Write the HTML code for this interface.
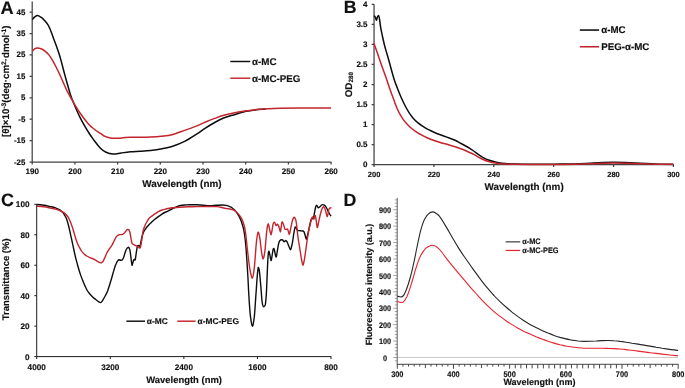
<!DOCTYPE html>
<html lang="en">
<head>
<meta charset="utf-8">
<title>Figure</title>
<style>
html,body{margin:0;padding:0;background:#fff;}
body{width:685px;height:388px;overflow:hidden;}
svg{display:block;font-family:"Liberation Sans",sans-serif;font-weight:bold;fill:#111;}
text{stroke:#111;stroke-width:0.15px;stroke-linejoin:round;text-rendering:geometricPrecision;}
.ax{stroke:#424242;stroke-width:1.25;fill:none;}
.axc{stroke:#1c1c1c;stroke-width:1;fill:none;}
.k{stroke:#0d0d0d;fill:none;stroke-linejoin:round;stroke-linecap:butt;}
.r{stroke:#c4242c;fill:none;stroke-linejoin:round;stroke-linecap:butt;}
.rd{stroke:#e5242e;fill:none;stroke-linejoin:round;stroke-linecap:butt;}
.m{text-anchor:middle;}
.e{text-anchor:end;}
</style>
</head>
<body>
<svg width="685" height="388" viewBox="0 0 685 388" role="img" aria-label="Four-panel figure: CD spectra, UV absorbance, FTIR transmittance and fluorescence of α-MC and α-MC-PEG">
<rect x="0" y="0" width="685" height="388" fill="#ffffff"/>

<g id="panelA">
<path class="ax" d="M32.20 1.50V162.00H331.40M32.20 12.09h-2.60M32.20 33.52h-2.60M32.20 54.95h-2.60M32.20 76.38h-2.60M32.20 97.81h-2.60M32.20 119.24h-2.60M32.20 140.67h-2.60M32.20 162.10h-2.60M32.20 162.00v2.60M74.90 162.00v2.60M117.60 162.00v2.60M160.30 162.00v2.60M203.00 162.00v2.60M245.70 162.00v2.60M288.40 162.00v2.60M331.10 162.00v2.60"/>
<text class="e" font-size="7.90" transform="translate(25.30 14.59)">45</text>
<text class="e" font-size="7.90" transform="translate(25.30 36.02)">35</text>
<text class="e" font-size="7.90" transform="translate(25.30 57.45)">25</text>
<text class="e" font-size="7.90" transform="translate(25.30 78.88)">15</text>
<text class="e" font-size="7.90" transform="translate(25.30 100.31)">5</text>
<text class="e" font-size="7.90" transform="translate(25.30 121.74)">-5</text>
<text class="e" font-size="7.90" transform="translate(25.30 143.17)">-15</text>
<text class="e" font-size="7.90" transform="translate(25.30 164.60)">-25</text>
<text class="m" font-size="8.00" transform="translate(32.20 174.20)">190</text>
<text class="m" font-size="8.00" transform="translate(74.90 174.20)">200</text>
<text class="m" font-size="8.00" transform="translate(117.60 174.20)">210</text>
<text class="m" font-size="8.00" transform="translate(160.30 174.20)">220</text>
<text class="m" font-size="8.00" transform="translate(203.00 174.20)">230</text>
<text class="m" font-size="8.00" transform="translate(245.70 174.20)">240</text>
<text class="m" font-size="8.00" transform="translate(288.40 174.20)">250</text>
<text class="m" font-size="8.00" transform="translate(331.10 174.20)">260</text>
<text class="m" font-size="9.90" transform="translate(181.90 187.40)">Wavelength (nm)</text>
<text font-size="9.75" transform="translate(9.20 137.00) rotate(-90)">[θ]×10<tspan dy="-3.4" font-size="6.6">-3</tspan><tspan dy="3.4">(deg·cm</tspan><tspan dy="-3.4" font-size="6.6">2</tspan><tspan dy="3.4">·dmol</tspan><tspan dy="-3.4" font-size="6.6">-1</tspan><tspan dy="3.4">)</tspan></text>
<path class="k" stroke-width="1.5" d="M32.4 19.6C32.8 19.2 33.8 17.6 34.7 16.9C35.6 16.2 36.5 15.3 37.7 15.4C38.9 15.5 40.4 16.7 41.7 17.7C43.0 18.7 44.2 20.1 45.3 21.3C46.3 22.5 47.2 23.7 48.0 24.9C48.8 26.1 49.2 27.1 49.8 28.5C50.4 29.9 51.0 31.4 51.6 33.0C52.2 34.6 52.6 35.9 53.4 38.0C54.2 40.1 55.1 42.4 56.2 45.5C57.3 48.6 58.5 51.8 60.0 56.8C61.5 61.8 63.1 68.8 64.9 75.3C66.7 81.8 69.2 90.8 70.8 95.8C72.4 100.8 73.1 101.7 74.6 105.3C76.1 108.9 77.8 113.0 80.0 117.3C82.2 121.7 85.7 127.7 88.0 131.5C90.3 135.3 91.9 137.4 94.0 140.2C96.1 143.0 98.5 146.2 100.5 148.2C102.5 150.2 103.9 151.3 106.0 152.3C108.1 153.3 110.5 153.9 113.0 154.0C115.5 154.1 118.1 153.4 121.0 153.0C123.9 152.6 127.4 152.1 130.6 151.8C133.8 151.5 136.7 151.5 140.0 151.3C143.3 151.1 147.2 150.9 150.7 150.5C154.2 150.1 157.4 149.7 161.0 149.0C164.6 148.3 168.1 147.8 172.0 146.5C175.9 145.2 180.4 143.5 184.6 141.4C188.8 139.3 193.6 136.1 197.0 133.9C200.4 131.7 202.1 130.2 205.0 128.3C207.9 126.4 211.7 124.2 214.7 122.5C217.7 120.8 220.1 119.5 223.0 118.3C225.9 117.1 228.7 116.4 232.3 115.3C236.0 114.2 241.1 112.5 244.9 111.6C248.7 110.7 251.5 110.3 255.0 109.9C258.5 109.5 264.2 109.2 266.0 109.0"/>
<path class="r" stroke-width="1.5" d="M32.4 51.2C32.8 50.8 33.8 49.5 34.6 48.9C35.4 48.3 36.0 47.9 37.2 47.9C38.4 47.9 40.4 48.4 41.7 49.0C43.1 49.6 44.1 50.3 45.3 51.3C46.5 52.3 47.7 53.4 48.9 54.9C50.1 56.4 51.3 58.3 52.5 60.3C53.7 62.3 54.9 64.6 56.1 67.0C57.3 69.4 58.6 72.0 59.8 74.6C61.0 77.2 62.0 79.7 63.2 82.4C64.4 85.1 65.7 88.2 67.0 90.8C68.3 93.4 69.7 95.8 71.0 98.0C72.3 100.3 73.1 101.8 74.6 104.3C76.1 106.8 77.8 109.8 80.0 113.0C82.2 116.2 85.7 120.7 88.0 123.4C90.3 126.1 91.9 127.3 94.0 129.0C96.1 130.7 98.7 132.2 100.5 133.4C102.3 134.6 103.3 135.6 105.0 136.4C106.7 137.2 108.8 137.7 110.5 138.0C112.2 138.3 113.3 138.3 115.0 138.3C116.7 138.3 118.9 138.3 120.6 138.2C122.3 138.0 123.3 137.6 125.0 137.4C126.7 137.2 128.1 137.2 130.6 137.2C133.1 137.2 136.7 137.2 140.0 137.2C143.3 137.2 147.2 137.2 150.7 137.0C154.2 136.8 157.4 136.6 161.0 136.2C164.6 135.8 168.1 135.7 172.0 134.7C175.9 133.7 180.4 131.9 184.6 130.4C188.8 128.9 193.6 127.3 197.0 125.9C200.4 124.5 202.1 123.5 205.0 122.2C207.9 121.0 211.7 119.5 214.7 118.4C217.7 117.3 220.1 116.3 223.0 115.5C225.9 114.7 228.7 114.0 232.3 113.3C236.0 112.5 240.3 111.7 244.9 111.0C249.5 110.3 254.2 109.8 260.0 109.3C265.9 108.8 273.3 108.5 280.0 108.3C286.7 108.1 291.5 108.1 300.0 108.1C308.5 108.0 325.8 108.0 331.0 108.0"/>
<path class="k" stroke-width="1.45" d="M230.3 61.5H250.3"/>
<path class="r" stroke-width="1.45" d="M230.3 78.2H250.3"/>
<text font-size="9.80" transform="translate(252.00 64.90)">α-MC</text>
<text font-size="9.80" transform="translate(252.00 81.50)">α-MC-PEG</text>
<text font-size="18.20" transform="translate(0.40 13.75)">A</text>
</g>
<g id="panelB">
<path class="ax" d="M374.05 4.20V164.70H673.60M374.05 4.30h-2.40M374.05 24.35h-2.40M374.05 44.40h-2.40M374.05 64.45h-2.40M374.05 84.50h-2.40M374.05 104.55h-2.40M374.05 124.60h-2.40M374.05 144.65h-2.40M374.05 164.70h-2.40M374.05 164.70v2.40M433.92 164.70v2.40M493.79 164.70v2.40M553.66 164.70v2.40M613.53 164.70v2.40M673.40 164.70v2.40"/>
<text class="e" font-size="8.00" transform="translate(367.50 6.75)">4</text>
<text class="e" font-size="8.00" transform="translate(367.50 26.80)">3.5</text>
<text class="e" font-size="8.00" transform="translate(367.50 46.85)">3</text>
<text class="e" font-size="8.00" transform="translate(367.50 66.90)">2.5</text>
<text class="e" font-size="8.00" transform="translate(367.50 86.95)">2</text>
<text class="e" font-size="8.00" transform="translate(367.50 107.00)">1.5</text>
<text class="e" font-size="8.00" transform="translate(367.50 127.05)">1</text>
<text class="e" font-size="8.00" transform="translate(367.50 147.10)">0.5</text>
<text class="e" font-size="8.00" transform="translate(367.50 167.15)">0</text>
<text class="m" font-size="7.50" transform="translate(374.05 176.50)">200</text>
<text class="m" font-size="7.50" transform="translate(433.92 176.50)">220</text>
<text class="m" font-size="7.50" transform="translate(493.79 176.50)">240</text>
<text class="m" font-size="7.50" transform="translate(553.66 176.50)">260</text>
<text class="m" font-size="7.50" transform="translate(613.53 176.50)">280</text>
<text class="m" font-size="7.50" transform="translate(673.40 176.50)">300</text>
<text class="m" font-size="9.90" transform="translate(524.10 190.30)">Wavelength (nm)</text>
<text font-size="9.80" transform="translate(351.60 97.30) rotate(-90)">OD<tspan dy="1.5" font-size="6.3">280</tspan></text>
<path class="k" stroke-width="1.5" d="M374.1 15.6C374.2 15.8 374.8 16.2 375.2 17.0C375.6 17.8 376.1 20.3 376.5 20.3C376.9 20.3 377.0 18.0 377.3 17.2C377.6 16.4 377.9 15.7 378.2 15.6C378.5 15.5 378.8 15.8 379.0 16.5C379.2 17.1 379.3 17.6 379.6 19.5C379.9 21.4 380.2 24.8 380.7 27.6C381.2 30.4 381.9 33.6 382.5 36.5C383.1 39.4 383.8 42.3 384.5 45.2C385.2 48.1 386.2 51.1 387.0 54.0C387.8 56.9 388.7 59.8 389.5 62.8C390.3 65.8 391.2 69.1 392.0 72.0C392.8 74.9 393.6 77.7 394.5 80.4C395.4 83.1 396.4 85.5 397.5 88.4C398.6 91.3 399.9 94.6 401.3 97.7C402.7 100.8 404.4 104.4 405.8 107.0C407.2 109.6 408.2 111.4 409.5 113.3C410.8 115.2 412.0 116.8 413.4 118.4C414.8 120.0 416.3 121.4 418.0 122.8C419.7 124.2 421.6 125.4 423.4 126.6C425.1 127.8 426.7 128.8 428.5 129.7C430.3 130.6 431.9 131.3 434.0 132.2C436.1 133.1 438.6 134.1 441.0 135.0C443.4 135.9 446.2 136.8 448.5 137.7C450.8 138.6 452.9 139.3 455.0 140.3C457.1 141.3 459.0 142.4 461.1 143.5C463.2 144.6 465.4 145.8 467.5 147.0C469.6 148.2 471.8 149.7 473.7 151.0C475.6 152.3 477.3 153.7 479.0 154.8C480.7 155.9 482.1 156.9 483.7 157.8C485.3 158.7 486.8 159.4 488.5 160.0C490.2 160.6 491.8 161.1 493.8 161.6C495.7 162.1 497.9 162.7 500.0 163.0C502.1 163.3 503.8 163.4 506.3 163.6C508.8 163.8 511.1 164.0 515.0 164.1C519.0 164.2 523.5 164.3 530.0 164.3C536.5 164.3 546.2 164.3 553.7 164.2C561.2 164.1 569.0 164.1 575.0 163.9C581.0 163.8 585.3 163.5 590.0 163.3C594.7 163.1 599.1 162.8 603.0 162.6C606.9 162.4 609.8 162.3 613.5 162.3C617.2 162.3 620.6 162.3 625.0 162.5C629.4 162.7 635.0 163.0 640.0 163.2C645.0 163.4 649.5 163.7 655.0 163.9C660.5 164.1 670.2 164.2 673.3 164.3"/>
<path class="r" stroke-width="1.5" d="M374.1 43.4C374.6 45.0 376.2 49.6 377.3 52.8C378.4 56.0 379.6 59.6 380.7 62.8C381.8 66.0 382.9 69.1 384.0 72.0C385.1 74.9 386.1 77.7 387.0 80.4C387.9 83.2 388.8 85.9 389.7 88.5C390.6 91.1 391.6 93.9 392.5 96.2C393.4 98.5 394.1 100.6 394.8 102.6C395.6 104.6 396.1 106.2 397.0 108.2C397.9 110.2 398.9 112.4 400.0 114.3C401.1 116.2 402.1 118.0 403.3 119.6C404.5 121.2 405.8 122.7 407.0 124.0C408.2 125.3 409.4 126.5 410.8 127.7C412.2 128.9 413.8 130.2 415.5 131.4C417.2 132.6 419.0 133.6 420.9 134.7C422.8 135.8 424.8 136.8 427.0 137.8C429.2 138.8 431.7 139.7 434.0 140.5C436.3 141.3 438.6 142.0 441.0 142.7C443.4 143.4 446.0 144.0 448.5 144.7C451.0 145.4 453.5 146.2 456.0 147.0C458.5 147.8 461.5 149.0 463.6 149.8C465.7 150.6 466.8 151.2 468.5 152.0C470.2 152.8 471.9 153.4 473.7 154.3C475.4 155.2 477.3 156.4 479.0 157.3C480.7 158.2 482.1 159.1 483.7 159.8C485.3 160.5 486.8 161.0 488.5 161.5C490.2 162.0 491.8 162.4 493.8 162.8C495.7 163.2 497.9 163.5 500.0 163.7C502.1 163.9 503.8 164.0 506.3 164.1C508.8 164.2 511.1 164.2 515.0 164.3C519.0 164.4 523.5 164.4 530.0 164.4C536.5 164.4 546.2 164.4 553.7 164.4C561.2 164.4 569.0 164.3 575.0 164.2C581.0 164.1 585.3 164.0 590.0 163.8C594.7 163.7 599.1 163.4 603.0 163.3C606.9 163.2 609.8 163.1 613.5 163.1C617.2 163.1 620.6 163.1 625.0 163.2C629.4 163.3 635.0 163.5 640.0 163.7C645.0 163.9 649.5 164.1 655.0 164.2C660.5 164.3 670.2 164.4 673.3 164.5"/>
<path class="k" stroke-width="1.55" d="M579.8 30.05H599.1"/>
<path class="r" stroke-width="1.55" d="M579.8 46.75H599.1"/>
<text font-size="9.72" transform="translate(601.30 33.10)">α-MC</text>
<text font-size="9.72" transform="translate(601.30 49.95)">PEG-α-MC</text>
<text font-size="17.80" transform="translate(343.80 13.45)">B</text>
</g>
<g id="panelC">
<path class="axc" d="M36.70 204.30V356.60H331.30M36.70 204.30h-2.40M36.70 234.76h-2.40M36.70 265.22h-2.40M36.70 295.68h-2.40M36.70 326.14h-2.40M36.70 356.60h-2.40M36.70 356.60v2.40M110.28 356.60v2.40M183.85 356.60v2.40M257.43 356.60v2.40M331.00 356.60v2.40"/>
<text class="e" font-size="8.20" transform="translate(29.50 207.20)">100</text>
<text class="e" font-size="8.20" transform="translate(29.50 237.66)">80</text>
<text class="e" font-size="8.20" transform="translate(29.50 268.12)">60</text>
<text class="e" font-size="8.20" transform="translate(29.50 298.58)">40</text>
<text class="e" font-size="8.20" transform="translate(29.50 329.04)">20</text>
<text class="e" font-size="8.20" transform="translate(29.50 359.50)">0</text>
<text class="m" font-size="8.20" transform="translate(36.70 369.60)">4000</text>
<text class="m" font-size="8.20" transform="translate(110.28 369.60)">3200</text>
<text class="m" font-size="8.20" transform="translate(183.85 369.60)">2400</text>
<text class="m" font-size="8.20" transform="translate(257.43 369.60)">1600</text>
<text class="m" font-size="8.20" transform="translate(331.00 369.60)">800</text>
<text class="m" font-size="9.45" transform="translate(184.10 383.20)">Wavelength (nm)</text>
<text class="m" font-size="9.50" transform="translate(9.00 279.30) rotate(-90)">Transmittance (%)</text>
<path class="k" stroke-width="1.4" d="M36.7 204.5C37.9 204.6 41.8 205.0 44.0 205.3C46.2 205.7 48.3 206.2 50.2 206.6C52.1 207.0 53.8 207.3 55.5 207.9C57.2 208.5 59.0 209.3 60.3 210.2C61.6 211.2 62.5 211.9 63.5 213.3C64.5 214.8 65.7 216.6 66.6 219.0C67.5 221.4 68.2 224.1 69.0 227.5C69.8 230.9 70.8 235.8 71.6 239.2C72.3 242.6 72.9 245.1 73.5 248.0C74.1 250.9 74.7 253.7 75.4 256.8C76.2 259.9 77.2 263.6 78.0 266.5C78.8 269.4 79.5 271.7 80.4 274.4C81.3 277.1 82.5 280.0 83.5 282.5C84.5 285.0 85.8 287.8 86.7 289.5C87.6 291.2 88.2 291.9 89.0 293.0C89.8 294.1 90.8 295.1 91.7 296.0C92.6 296.9 93.4 297.7 94.2 298.4C95.0 299.1 95.9 299.7 96.7 300.3C97.5 300.9 98.2 301.5 98.8 301.9C99.4 302.3 100.0 302.7 100.5 302.6C101.0 302.6 101.4 302.1 101.8 301.6C102.2 301.1 102.4 300.8 103.0 299.8C103.6 298.8 104.6 297.0 105.4 295.5C106.2 294.0 106.8 293.1 107.6 291.0C108.3 288.9 109.4 285.5 110.1 283.2C110.8 280.9 111.4 279.1 112.0 277.0C112.6 274.9 113.2 272.5 113.8 270.6C114.3 268.7 114.8 267.2 115.3 265.8C115.8 264.4 116.4 263.2 116.8 262.3C117.2 261.4 117.6 260.9 118.0 260.5C118.4 260.1 118.7 259.9 119.2 259.8C119.6 259.8 120.2 260.2 120.7 260.2C121.2 260.2 121.7 260.5 122.2 260.0C122.7 259.5 123.1 258.6 123.6 257.4C124.1 256.2 124.5 254.4 125.0 253.0C125.5 251.6 126.0 249.9 126.5 249.0C127.0 248.1 127.6 247.5 128.1 247.3C128.5 247.1 128.9 247.5 129.2 248.0C129.5 248.5 129.7 248.8 130.0 250.5C130.3 252.2 130.7 255.6 131.0 258.0C131.3 260.4 131.7 264.4 132.0 265.1C132.3 265.9 132.6 263.4 132.9 262.5C133.2 261.6 133.4 260.3 133.7 259.8C134.0 259.3 134.2 259.4 134.5 259.4C134.8 259.4 134.9 260.7 135.2 259.8C135.5 258.9 135.8 256.0 136.1 254.0C136.4 252.0 136.8 249.3 137.0 248.0C137.2 246.7 137.4 246.4 137.6 246.0C137.8 245.6 137.9 245.5 138.2 245.5C138.5 245.5 138.9 246.2 139.2 246.2C139.5 246.2 139.9 246.4 140.2 245.5C140.5 244.6 140.8 242.5 141.1 241.0C141.4 239.5 141.7 238.0 142.0 236.7C142.3 235.4 142.8 234.1 143.2 233.0C143.6 231.9 143.8 231.5 144.5 230.4C145.2 229.3 146.4 227.6 147.5 226.3C148.6 225.1 149.6 224.0 150.8 222.9C152.0 221.8 153.2 220.6 154.5 219.5C155.8 218.4 157.1 217.5 158.3 216.6C159.6 215.7 160.8 214.9 162.0 214.1C163.2 213.3 164.1 212.8 165.8 212.0C167.5 211.2 170.1 209.9 172.0 209.0C173.9 208.1 175.6 207.2 177.0 206.6C178.4 206.0 179.2 205.8 180.5 205.5C181.8 205.2 183.0 205.1 184.6 205.0C186.2 204.9 187.9 204.7 190.0 204.7C192.1 204.7 194.9 204.7 197.1 204.8C199.3 204.9 200.9 205.1 203.0 205.2C205.1 205.3 207.5 205.6 209.7 205.6C211.9 205.6 213.9 205.4 216.0 205.3C218.1 205.2 220.6 205.0 222.3 205.0C224.0 205.0 224.8 205.1 226.0 205.4C227.2 205.7 228.8 206.2 229.8 206.6C230.9 207.0 231.5 207.4 232.3 208.0C233.1 208.6 234.0 209.4 234.8 210.3C235.6 211.2 236.5 212.2 237.3 213.5C238.1 214.8 239.1 216.3 239.8 217.9C240.6 219.5 241.2 220.9 241.8 222.8C242.4 224.7 243.1 226.7 243.6 229.2C244.1 231.7 244.6 234.7 245.0 238.0C245.4 241.3 245.8 245.3 246.1 249.3C246.4 253.3 246.7 257.4 247.0 262.0C247.3 266.6 247.6 272.2 247.9 277.0C248.2 281.8 248.3 285.3 248.6 291.0C248.9 296.7 249.5 305.9 249.9 311.0C250.3 316.1 250.8 319.0 251.2 321.5C251.6 324.0 252.0 325.9 252.4 326.2C252.8 326.4 253.1 324.7 253.4 323.0C253.7 321.3 254.1 319.2 254.4 316.0C254.7 312.8 255.0 308.2 255.3 304.0C255.6 299.8 255.8 295.9 256.2 291.0C256.5 286.1 257.1 278.1 257.4 274.4C257.7 270.7 257.8 270.2 258.0 269.0C258.2 267.8 258.2 267.2 258.4 267.4C258.6 267.6 258.9 268.4 259.2 270.0C259.5 271.6 259.7 273.5 260.0 277.0C260.3 280.5 260.9 287.0 261.2 291.0C261.5 295.0 261.7 298.6 262.0 301.0C262.3 303.4 262.5 304.4 262.8 305.4C263.1 306.4 263.4 306.7 263.7 306.8C264.0 306.9 264.3 306.5 264.6 306.0C264.9 305.5 265.2 306.1 265.5 303.6C265.8 301.1 266.2 297.1 266.5 291.0C266.8 284.9 267.2 272.7 267.5 266.9C267.8 261.1 267.9 258.6 268.1 256.0C268.3 253.4 268.5 251.9 268.7 251.3C268.9 250.7 269.1 251.8 269.3 252.5C269.5 253.2 269.8 254.5 270.0 255.6C270.2 256.6 270.4 258.0 270.6 258.8C270.8 259.6 271.0 260.8 271.2 260.6C271.4 260.4 271.6 258.8 271.8 257.5C272.0 256.2 272.3 254.3 272.5 253.0C272.7 251.7 272.9 250.3 273.1 249.6C273.3 248.8 273.6 248.4 273.8 248.5C274.0 248.6 274.2 249.2 274.4 250.0C274.6 250.8 274.8 252.0 275.0 253.0C275.2 254.0 275.4 255.2 275.6 255.8C275.8 256.4 276.1 257.4 276.3 256.8C276.6 256.2 276.8 254.2 277.1 252.5C277.4 250.8 277.7 248.5 278.0 246.8C278.3 245.1 278.7 243.4 279.0 242.3C279.3 241.2 279.6 240.9 280.0 240.5C280.4 240.1 280.9 239.9 281.3 239.8C281.7 239.7 282.2 239.8 282.6 240.0C283.0 240.2 283.2 240.9 283.5 241.2C283.8 241.5 284.1 241.7 284.3 241.7C284.6 241.7 284.8 241.2 285.0 241.0C285.2 240.8 285.3 240.5 285.6 240.5C285.9 240.5 286.3 240.8 286.6 241.2C286.9 241.6 287.2 242.1 287.6 243.0C288.0 243.9 288.6 245.7 289.1 246.8C289.6 247.9 290.2 249.9 290.6 249.8C291.0 249.8 291.3 247.8 291.6 246.5C291.9 245.2 292.2 243.9 292.6 241.7C293.0 239.4 293.5 235.4 293.9 233.0C294.3 230.6 294.7 228.0 295.1 227.2C295.5 226.4 295.9 227.9 296.3 228.4C296.7 228.9 297.1 230.0 297.6 230.4C298.1 230.8 298.9 230.5 299.5 230.6C300.1 230.7 300.9 230.8 301.4 230.9C301.9 231.0 302.3 230.9 302.7 231.0C303.1 231.1 303.5 230.9 303.9 231.7C304.3 232.4 304.8 234.2 305.2 235.5C305.6 236.8 306.0 239.3 306.4 239.2C306.8 239.1 307.2 236.7 307.6 235.0C308.0 233.3 308.5 231.1 308.9 229.2C309.3 227.3 309.7 225.2 310.1 223.5C310.5 221.8 311.0 219.9 311.4 219.1C311.8 218.3 312.0 218.6 312.3 218.5C312.6 218.4 312.9 219.1 313.2 218.6C313.5 218.1 313.8 216.7 314.0 215.5C314.2 214.3 314.4 213.0 314.7 211.6C315.0 210.2 315.3 208.4 315.6 207.3C315.9 206.2 316.2 205.5 316.5 205.3C316.8 205.1 317.1 205.8 317.4 206.2C317.7 206.6 317.9 207.6 318.2 207.8C318.5 208.0 318.9 207.7 319.2 207.5C319.5 207.3 319.8 207.0 320.2 206.6C320.6 206.2 321.1 205.3 321.5 205.0C321.9 204.7 322.3 204.6 322.8 204.6C323.3 204.6 323.8 204.9 324.3 205.2C324.8 205.5 325.4 206.0 325.8 206.6C326.2 207.2 326.6 208.0 327.0 208.8C327.4 209.6 327.9 210.7 328.3 211.6C328.7 212.5 329.2 213.2 329.6 214.0C330.1 214.8 330.8 215.8 331.0 216.1"/>
<path class="r" stroke-width="1.4" d="M36.7 206.2C37.9 206.3 41.8 206.5 44.0 206.8C46.2 207.1 48.3 207.6 50.2 208.0C52.1 208.4 53.8 208.7 55.5 209.2C57.2 209.7 59.2 210.3 60.7 211.0C62.1 211.6 63.0 212.0 64.2 212.9C65.4 213.9 66.6 215.1 67.7 216.5C68.7 218.0 69.4 219.4 70.3 221.5C71.2 223.6 72.2 226.8 73.0 229.2C73.8 231.6 74.3 233.7 74.9 235.8C75.5 237.9 76.1 239.9 76.8 241.7C77.4 243.5 78.3 245.2 79.0 246.7C79.8 248.2 80.4 249.3 81.2 250.5C81.9 251.7 82.9 252.8 83.8 253.7C84.8 254.6 85.6 255.3 86.7 256.0C87.8 256.7 89.2 257.2 90.5 257.8C91.8 258.4 93.0 258.7 94.2 259.3C95.4 259.9 96.5 260.7 97.5 261.3C98.5 261.9 99.8 262.6 100.5 262.8C101.2 263.0 101.4 262.6 101.8 262.4C102.2 262.1 102.5 262.1 103.0 261.3C103.5 260.5 104.4 258.8 105.0 257.4C105.6 256.0 106.1 254.4 106.8 253.0C107.5 251.6 108.5 250.2 109.3 249.0C110.1 247.8 111.0 246.8 111.8 245.5C112.6 244.2 113.3 242.6 114.0 241.2C114.7 239.8 115.4 238.1 116.0 237.2C116.6 236.2 117.0 235.9 117.6 235.5C118.1 235.1 118.7 234.8 119.3 234.7C119.9 234.5 120.6 234.7 121.2 234.6C121.8 234.5 122.5 234.5 123.1 234.2C123.7 233.8 124.2 233.1 124.8 232.5C125.3 231.9 126.0 230.9 126.4 230.4C126.9 229.9 127.1 229.6 127.5 229.5C127.9 229.4 128.3 229.5 128.6 229.7C128.9 229.9 129.2 230.2 129.4 230.8C129.7 231.4 129.8 231.7 130.1 233.0C130.4 234.3 130.7 236.8 131.0 238.5C131.3 240.2 131.6 242.0 131.9 243.0C132.2 244.0 132.7 244.0 133.1 244.3C133.5 244.6 134.0 244.8 134.4 245.0C134.8 245.2 135.2 245.4 135.6 245.6C136.0 245.8 136.4 245.7 136.9 246.0C137.4 246.3 138.0 247.0 138.5 247.3C139.0 247.6 139.6 248.3 140.0 248.0C140.4 247.7 140.6 246.6 140.8 245.5C141.1 244.4 141.2 243.3 141.5 241.7C141.8 240.1 142.0 237.9 142.3 236.0C142.6 234.1 142.8 232.2 143.2 230.4C143.6 228.7 144.4 227.0 145.0 225.5C145.6 224.0 146.3 222.7 147.0 221.6C147.7 220.4 148.3 219.3 148.9 218.5C149.5 217.7 149.9 217.6 150.8 216.8C151.7 216.1 153.2 215.1 154.5 214.2C155.8 213.3 157.1 212.3 158.3 211.6C159.6 210.9 160.8 210.4 162.0 210.0C163.2 209.6 164.1 209.4 165.8 209.0C167.5 208.6 169.7 208.1 172.0 207.8C174.3 207.5 176.8 207.5 179.5 207.3C182.2 207.1 185.1 206.9 188.0 206.8C190.9 206.7 193.9 206.7 197.1 206.6C200.3 206.5 203.7 206.5 207.0 206.5C210.3 206.5 214.9 206.5 217.2 206.6C219.5 206.7 219.7 207.0 221.0 207.3C222.3 207.6 223.6 208.1 224.8 208.3C226.1 208.6 227.2 208.6 228.5 208.8C229.8 209.0 231.1 209.2 232.3 209.6C233.5 210.0 234.4 210.6 235.5 211.3C236.6 212.1 237.8 213.2 238.6 214.1C239.4 215.0 239.9 215.8 240.5 216.8C241.1 217.9 241.8 219.0 242.4 220.4C243.0 221.8 243.5 223.1 244.0 225.0C244.5 226.9 245.0 229.2 245.4 231.7C245.8 234.2 246.1 237.1 246.4 240.0C246.7 242.9 247.0 246.0 247.4 249.3C247.8 252.6 248.2 256.6 248.6 260.0C249.0 263.4 249.5 266.8 249.9 269.4C250.3 272.0 250.8 274.0 251.2 275.5C251.6 277.0 252.0 278.4 252.4 278.2C252.8 278.0 253.1 276.4 253.4 274.5C253.7 272.6 254.1 270.0 254.4 266.9C254.7 263.8 255.0 259.8 255.3 256.0C255.6 252.2 255.9 247.6 256.2 244.3C256.5 241.0 256.9 238.0 257.2 236.0C257.5 234.0 257.9 232.4 258.2 232.2C258.5 231.9 258.8 233.3 259.1 234.5C259.4 235.7 259.7 237.3 260.0 239.2C260.3 241.1 260.5 243.7 260.8 246.0C261.1 248.3 261.4 251.1 261.7 253.0C262.0 254.9 262.2 256.2 262.5 257.2C262.8 258.2 262.9 259.0 263.2 258.8C263.5 258.6 263.8 257.4 264.1 256.0C264.4 254.6 264.7 253.0 265.0 250.5C265.3 248.0 265.5 244.1 265.8 241.0C266.1 237.9 266.4 234.2 266.7 231.7C267.0 229.2 267.2 227.2 267.5 225.8C267.8 224.5 268.0 223.6 268.2 223.6C268.4 223.6 268.7 224.8 268.9 225.7C269.1 226.6 269.2 228.0 269.5 229.2C269.8 230.4 270.1 231.8 270.4 232.7C270.7 233.6 270.9 235.1 271.2 234.7C271.5 234.3 271.7 232.1 272.0 230.5C272.3 228.9 272.6 226.7 272.8 225.4C273.1 224.2 273.2 223.6 273.5 223.0C273.8 222.4 274.0 222.1 274.3 222.1C274.6 222.1 274.8 222.6 275.1 223.2C275.4 223.8 275.7 225.1 276.0 225.4C276.3 225.7 276.6 225.0 276.8 224.8C277.1 224.6 277.2 224.1 277.5 224.2C277.8 224.3 278.1 225.0 278.4 225.6C278.7 226.2 279.1 227.1 279.3 227.9C279.6 228.7 279.7 229.7 279.9 230.3C280.1 230.9 280.3 232.2 280.5 231.7C280.7 231.1 280.9 228.6 281.2 227.0C281.4 225.4 281.7 222.8 282.0 222.1C282.3 221.4 282.6 222.4 282.9 223.0C283.2 223.6 283.6 224.6 283.8 225.4C284.1 226.2 284.2 227.0 284.4 227.6C284.6 228.2 284.7 228.9 285.0 229.2C285.3 229.5 285.9 229.4 286.3 229.4C286.7 229.4 287.2 228.8 287.6 229.2C288.0 229.6 288.2 231.2 288.5 232.0C288.8 232.8 289.0 234.4 289.3 234.2C289.6 233.9 290.0 232.0 290.3 230.5C290.6 229.0 290.9 227.2 291.3 225.4C291.7 223.7 292.2 221.3 292.6 220.0C293.0 218.7 293.5 217.7 293.9 217.4C294.3 217.1 294.6 217.5 294.9 218.0C295.2 218.5 295.6 219.0 295.9 220.4C296.2 221.8 296.5 224.2 296.8 226.5C297.1 228.8 297.3 231.5 297.6 234.2C297.9 236.9 298.4 239.8 298.8 242.5C299.2 245.2 299.7 247.7 300.1 250.5C300.6 253.3 301.0 257.1 301.5 259.5C302.0 261.9 302.5 264.8 302.9 265.1C303.3 265.4 303.6 263.3 304.0 261.5C304.4 259.7 304.8 257.0 305.2 254.3C305.6 251.6 306.0 248.4 306.4 245.5C306.8 242.6 307.3 239.3 307.7 236.7C308.1 234.1 308.5 232.1 308.9 230.0C309.3 227.9 309.8 225.9 310.2 224.2C310.6 222.5 310.9 221.2 311.2 220.0C311.5 218.8 311.9 217.5 312.2 217.1C312.5 216.7 312.8 217.5 313.1 217.8C313.4 218.1 313.8 219.2 314.0 219.1C314.2 219.0 314.4 217.6 314.6 217.0C314.8 216.4 314.9 214.8 315.2 215.4C315.5 216.0 315.9 218.5 316.2 220.5C316.5 222.5 316.9 226.7 317.2 227.4C317.5 228.1 317.8 226.0 318.1 224.8C318.4 223.6 318.6 222.0 319.0 220.4C319.4 218.8 319.8 216.7 320.2 215.0C320.6 213.3 321.1 211.5 321.5 210.3C321.9 209.1 322.2 208.4 322.5 207.8C322.8 207.2 323.1 206.6 323.5 206.6C323.9 206.6 324.2 207.2 324.6 208.0C325.0 208.8 325.5 210.5 325.8 211.6C326.1 212.7 326.2 213.7 326.5 214.5C326.8 215.3 327.0 216.8 327.3 216.6C327.6 216.4 327.8 214.8 328.1 213.5C328.4 212.2 328.6 209.9 329.0 209.0C329.4 208.1 329.8 208.2 330.2 208.0C330.6 207.8 331.3 207.8 331.5 207.8"/>
<path class="k" stroke-width="1.45" d="M126.4 321.2H145"/>
<path class="r" stroke-width="1.45" d="M177.3 321.2H195.6"/>
<text font-size="8.40" transform="translate(146.80 324.40)">α-MC</text>
<text font-size="8.40" transform="translate(197.50 324.40)">α-MC-PEG</text>
<text font-size="17.90" transform="translate(0.90 205.80)">C</text>
</g>
<g id="panelD">
<path stroke="#bcbcbc" stroke-width="0.8" fill="none" d="M397.4 357.5H678.3"/><path stroke="#9a9a9a" stroke-width="0.9" fill="none" d="M397.2 360.78h-2.4M397.2 357.50h-4.0M397.2 354.22h-2.4M397.2 350.93h-2.4M397.2 347.65h-2.4M397.2 344.36h-2.4M397.2 341.08h-4.0M397.2 337.80h-2.4M397.2 334.51h-2.4M397.2 331.23h-2.4M397.2 327.94h-2.4M397.2 324.66h-4.0M397.2 321.38h-2.4M397.2 318.09h-2.4M397.2 314.81h-2.4M397.2 311.52h-2.4M397.2 308.24h-4.0M397.2 304.96h-2.4M397.2 301.67h-2.4M397.2 298.39h-2.4M397.2 295.10h-2.4M397.2 291.82h-4.0M397.2 288.54h-2.4M397.2 285.25h-2.4M397.2 281.97h-2.4M397.2 278.68h-2.4M397.2 275.40h-4.0M397.2 272.12h-2.4M397.2 268.83h-2.4M397.2 265.55h-2.4M397.2 262.26h-2.4M397.2 258.98h-4.0M397.2 255.70h-2.4M397.2 252.41h-2.4M397.2 249.13h-2.4M397.2 245.84h-2.4M397.2 242.56h-4.0M397.2 239.28h-2.4M397.2 235.99h-2.4M397.2 232.71h-2.4M397.2 229.42h-2.4M397.2 226.14h-4.0M397.2 222.86h-2.4M397.2 219.57h-2.4M397.2 216.29h-2.4M397.2 213.00h-2.4M397.2 209.72h-4.0M397.2 206.44h-2.4M397.2 203.15h-2.4M397.2 199.87h-2.4"/><path stroke="#5c5c5c" stroke-width="1" fill="none" d="M397.2 197.8V364.3"/><path stroke="#3c3c3c" stroke-width="0.95" fill="none" d="M396.8 364.3H678.5M397.30 364.3v4.5M402.92 364.3v2.3M408.54 364.3v2.3M414.15 364.3v2.3M419.77 364.3v2.3M425.39 364.3v3.8M431.01 364.3v2.3M436.63 364.3v2.3M442.24 364.3v2.3M447.86 364.3v2.3M453.48 364.3v4.5M459.10 364.3v2.3M464.72 364.3v2.3M470.33 364.3v2.3M475.95 364.3v2.3M481.57 364.3v3.8M487.19 364.3v2.3M492.81 364.3v2.3M498.42 364.3v2.3M504.04 364.3v2.3M509.66 364.3v4.5M515.28 364.3v4.1M520.90 364.3v4.1M526.51 364.3v4.1M532.13 364.3v4.1M537.75 364.3v4.1M543.37 364.3v4.1M548.99 364.3v4.1M554.60 364.3v4.1M560.22 364.3v4.1M565.84 364.3v4.5M571.46 364.3v4.1M577.08 364.3v4.1M582.69 364.3v4.1M588.31 364.3v4.1M593.93 364.3v4.1M599.55 364.3v4.1M605.17 364.3v4.1M610.78 364.3v4.1M616.40 364.3v4.1M622.02 364.3v4.5M627.64 364.3v2.3M633.26 364.3v2.3M638.87 364.3v2.3M644.49 364.3v2.3M650.11 364.3v3.8M655.73 364.3v2.3M661.35 364.3v2.3M666.96 364.3v2.3M672.58 364.3v2.3M678.20 364.3v4.5"/>
<text class="m" font-size="7.30" transform="translate(385.00 360.65) scale(1 1.100)">0</text>
<text class="m" font-size="7.30" transform="translate(385.00 344.23) scale(1 1.100)">100</text>
<text class="m" font-size="7.30" transform="translate(385.00 327.81) scale(1 1.100)">200</text>
<text class="m" font-size="7.30" transform="translate(385.00 311.39) scale(1 1.100)">300</text>
<text class="m" font-size="7.30" transform="translate(385.00 294.97) scale(1 1.100)">400</text>
<text class="m" font-size="7.30" transform="translate(385.00 278.55) scale(1 1.100)">500</text>
<text class="m" font-size="7.30" transform="translate(385.00 262.13) scale(1 1.100)">600</text>
<text class="m" font-size="7.30" transform="translate(385.00 245.71) scale(1 1.100)">700</text>
<text class="m" font-size="7.30" transform="translate(385.00 229.29) scale(1 1.100)">800</text>
<text class="m" font-size="7.30" transform="translate(385.00 212.87) scale(1 1.100)">900</text>
<text class="m" font-size="7.40" transform="translate(397.30 376.50) scale(1 1.100)">300</text>
<text class="m" font-size="7.40" transform="translate(453.48 376.50) scale(1 1.100)">400</text>
<text class="m" font-size="7.40" transform="translate(509.66 376.50) scale(1 1.100)">500</text>
<text class="m" font-size="7.40" transform="translate(565.84 376.50) scale(1 1.100)">600</text>
<text class="m" font-size="7.40" transform="translate(622.02 376.50) scale(1 1.100)">700</text>
<text class="m" font-size="7.40" transform="translate(678.20 376.50) scale(1 1.100)">800</text>
<text class="m" font-size="9.00" transform="translate(539.50 385.10)">Wavelength (nm)</text>
<text class="m" font-size="9.00" transform="translate(371.90 284.60) rotate(-90)">Fluorescence intensity (a.u.)</text>
<path class="k" style="stroke:#262626" stroke-width="1.1" d="M397.3 296.2C397.7 296.3 398.9 296.7 399.5 296.8C400.1 296.9 400.6 297.0 401.2 296.9C401.8 296.8 402.5 296.5 403.0 296.0C403.5 295.5 403.9 295.0 404.4 294.0C404.9 293.0 405.6 291.5 406.2 290.0C406.8 288.5 407.4 286.8 408.0 285.0C408.6 283.2 409.2 281.1 409.8 279.0C410.4 276.9 411.0 274.8 411.6 272.4C412.2 270.0 412.8 267.2 413.4 264.5C414.0 261.8 414.6 258.9 415.2 256.2C415.8 253.4 416.2 250.7 416.8 248.0C417.4 245.3 417.9 242.8 418.5 240.0C419.1 237.2 419.8 233.8 420.5 231.2C421.2 228.6 421.8 226.4 422.5 224.3C423.2 222.2 424.0 220.2 425.0 218.5C426.0 216.8 427.2 214.9 428.5 213.8C429.8 212.7 431.4 212.0 432.6 211.9C433.9 211.8 434.9 212.6 436.0 213.3C437.1 214.0 437.7 214.0 439.4 216.2C441.1 218.4 443.9 223.1 446.0 226.6C448.1 230.0 450.0 233.6 452.0 237.1C454.0 240.5 456.0 243.9 458.0 247.1C460.0 250.3 462.0 253.3 464.0 256.3C466.0 259.2 468.0 261.9 470.0 264.8C472.0 267.6 474.0 270.5 476.0 273.2C478.0 276.0 480.0 278.7 482.0 281.3C484.0 283.9 486.0 286.4 488.0 288.7C490.0 291.1 492.0 293.4 494.0 295.5C496.0 297.7 498.0 299.7 500.0 301.6C502.0 303.5 504.0 305.3 506.0 307.0C508.0 308.8 510.0 310.5 512.0 312.1C514.0 313.6 516.0 315.2 518.0 316.6C520.0 318.1 522.0 319.5 524.0 320.8C526.0 322.1 528.0 323.4 530.0 324.5C532.0 325.6 534.0 326.6 536.0 327.6C538.0 328.6 540.0 329.5 542.0 330.4C544.0 331.4 546.0 332.2 548.0 333.1C550.0 333.9 552.0 334.7 554.0 335.4C556.0 336.1 558.0 336.8 560.0 337.4C562.0 337.9 564.0 338.4 566.0 338.9C568.0 339.4 570.0 339.7 572.0 340.1C574.0 340.4 576.0 340.7 578.0 341.0C580.0 341.2 582.0 341.3 584.0 341.4C586.0 341.4 588.0 341.4 590.0 341.3C592.0 341.2 594.0 341.1 596.0 341.0C598.0 340.8 600.0 340.7 602.0 340.6C604.0 340.5 606.0 340.5 608.0 340.5C610.0 340.5 612.0 340.6 614.0 340.8C616.0 340.9 618.0 341.1 620.0 341.4C622.0 341.6 624.0 341.9 626.0 342.2C628.0 342.5 630.0 342.8 632.0 343.2C634.0 343.5 636.0 343.8 638.0 344.1C640.0 344.5 642.0 344.8 644.0 345.1C646.0 345.5 648.0 345.8 650.0 346.1C652.0 346.5 654.0 346.8 656.0 347.2C658.0 347.5 660.0 347.8 662.0 348.2C664.0 348.5 666.0 348.8 668.0 349.1C670.0 349.4 672.3 349.7 674.0 349.9C675.7 350.2 677.4 350.4 678.1 350.5"/>
<path class="rd" stroke-width="1.1" d="M397.3 301.3C397.7 301.4 399.0 302.0 399.7 302.2C400.4 302.4 401.1 302.6 401.7 302.5C402.3 302.4 402.9 302.3 403.5 301.8C404.1 301.3 404.8 300.3 405.3 299.5C405.8 298.7 406.2 297.9 406.7 297.0C407.1 296.1 407.5 295.4 408.0 294.0C408.5 292.6 409.2 290.6 409.8 288.8C410.4 287.0 411.0 285.2 411.6 283.2C412.2 281.2 412.8 279.1 413.4 277.0C414.0 274.9 414.6 272.6 415.2 270.6C415.8 268.6 416.4 266.8 417.0 265.0C417.6 263.2 418.2 261.3 418.8 259.8C419.4 258.3 420.0 257.0 420.6 255.8C421.2 254.6 421.8 253.6 422.4 252.6C423.0 251.6 423.6 250.8 424.2 250.1C424.8 249.3 425.1 248.8 426.0 248.1C426.9 247.4 428.6 246.4 429.6 245.9C430.7 245.4 431.5 245.3 432.3 245.3C433.1 245.3 433.7 245.5 434.5 245.8C435.3 246.1 436.1 246.5 437.0 247.2C437.9 247.9 438.5 248.3 440.0 250.0C441.5 251.8 444.0 255.2 446.0 257.8C448.0 260.4 450.0 262.9 452.0 265.3C454.0 267.8 456.0 270.2 458.0 272.6C460.0 275.0 462.0 277.4 464.0 279.7C466.0 282.1 468.0 284.5 470.0 286.8C472.0 289.1 474.0 291.3 476.0 293.5C478.0 295.7 480.0 297.9 482.0 300.1C484.0 302.2 486.0 304.3 488.0 306.2C490.0 308.1 492.0 309.9 494.0 311.6C496.0 313.3 498.0 314.9 500.0 316.4C502.0 317.9 504.0 319.3 506.0 320.7C508.0 322.1 510.0 323.4 512.0 324.6C514.0 325.9 516.0 327.1 518.0 328.3C520.0 329.4 522.0 330.4 524.0 331.4C526.0 332.3 528.0 333.2 530.0 334.1C532.0 335.0 534.0 335.9 536.0 336.8C538.0 337.6 540.0 338.4 542.0 339.1C544.0 339.9 546.0 340.6 548.0 341.2C550.0 341.9 552.0 342.5 554.0 343.1C556.0 343.7 558.0 344.2 560.0 344.7C562.0 345.1 564.0 345.6 566.0 346.0C568.0 346.3 570.0 346.7 572.0 347.0C574.0 347.3 576.0 347.5 578.0 347.7C580.0 347.9 582.0 348.1 584.0 348.2C586.0 348.3 588.0 348.3 590.0 348.3C592.0 348.3 594.0 348.3 596.0 348.3C598.0 348.3 600.0 348.3 602.0 348.3C604.0 348.3 606.0 348.3 608.0 348.4C610.0 348.4 612.0 348.5 614.0 348.6C616.0 348.7 618.0 348.8 620.0 349.0C622.0 349.2 624.0 349.4 626.0 349.6C628.0 349.8 630.0 350.1 632.0 350.3C634.0 350.6 636.0 350.9 638.0 351.1C640.0 351.4 642.0 351.7 644.0 351.9C646.0 352.2 648.0 352.5 650.0 352.7C652.0 353.0 654.0 353.2 656.0 353.4C658.0 353.7 660.0 353.9 662.0 354.1C664.0 354.3 666.0 354.5 668.0 354.7C670.0 355.0 672.3 355.2 674.0 355.4C675.7 355.5 677.4 355.7 678.1 355.8"/>
<path stroke="#4a4a4a" fill="none" stroke-width="1.3" d="M505.6 241.85H520.2"/>
<path class="rd" stroke-width="1.2" d="M505.6 250.45H520.2"/>
<text font-size="7.35" transform="translate(522.20 244.30) scale(1 1.080)">α-MC</text>
<text font-size="7.35" transform="translate(522.20 252.90) scale(1 1.080)">α-MC-PEG</text>
<text font-size="17.80" transform="translate(343.60 205.60)">D</text>
</g>
</svg>
</body>
</html>
